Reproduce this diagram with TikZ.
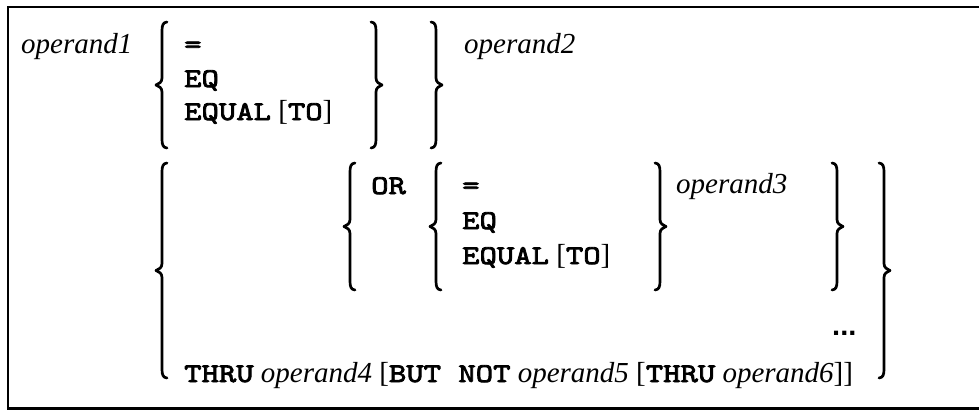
\documentclass[tikz,border=0pt]{standalone}
\usepackage{fontspec}
\setmainfont{Liberation Serif}
\newfontfamily\dotfont{Liberation Sans}
\newfontfamily\kwfont{lmmono10-regular.otf}[FakeStretch=1.225, FakeBold=3]
\newcommand{\kw}[1]{{\kwfont\fontsize{27}{33}\selectfont #1}}
\newcommand{\op}[1]{\textit{#1}}

\tikzset{
  txt/.style={anchor=base west, inner sep=0pt, font=\fontsize{29}{33}\selectfont},
  brc/.style={line width=2.7pt, line cap=round, line join=round},
  frame/.style={line width=2.2pt}
}

% left brace: stem x, top y, bottom y
\newcommand{\lbrc}[3]{%
  \pgfmathsetmacro\bmid{(#2+#3)/2}
  \draw[brc] (#1+5,#2) .. controls (#1+1,#2+0.5) and (#1,#2+3) .. (#1,#2+9)
    -- (#1,\bmid-7) .. controls (#1,\bmid-3) and (#1-3,\bmid-1) .. (#1-6,\bmid)
    .. controls (#1-3,\bmid+1) and (#1,\bmid+3) .. (#1,\bmid+7)
    -- (#1,#3-9) .. controls (#1,#3-3) and (#1+1,#3-0.5) .. (#1+5,#3);}
% right brace: stem x, top y, bottom y
\newcommand{\rbrc}[3]{%
  \pgfmathsetmacro\bmid{(#2+#3)/2}
  \draw[brc] (#1-5,#2) .. controls (#1-1,#2+0.5) and (#1,#2+3) .. (#1,#2+9)
    -- (#1,\bmid-7) .. controls (#1,\bmid-3) and (#1+3,\bmid-1) .. (#1+6,\bmid)
    .. controls (#1+3,\bmid+1) and (#1,\bmid+3) .. (#1,\bmid+7)
    -- (#1,#3-9) .. controls (#1,#3-3) and (#1-1,#3-0.5) .. (#1-5,#3);}

\begin{document}
\begin{tikzpicture}[x=1pt, y=-1pt]
    \useasboundingbox (0,0) rectangle (979,412);

    % Frame
    \draw[frame] (990,7) -- (8,7) -- (8,408.5) -- (990,408.5);

    % First comparison
    \node[txt] (op1) at (21,53) {\op{operand1}};
    \node[txt] (eqA) at (184,53) {\kw{=}};
    \node[txt] (eqB) at (184,87) {\kw{EQ}};
    \node[txt] (eqC) at (184,120) {\kw{EQUAL} [\kw{TO}]};
    \node[txt] (op2) at (464,53) {\op{operand2}};

    % Second comparison
    \node[txt] (or) at (371,194) {\kw{OR}};
    \node[txt] (eqD) at (462,194) {\kw{=}};
    \node[txt] (eqE) at (462,229) {\kw{EQ}};
    \node[txt] (eqF) at (462,264) {\kw{EQUAL} [\kw{TO}]};
    \node[txt] (op3) at (676,193) {\op{operand3}};
    \node[txt] (dots) at (832,335) {\dotfont\bfseries ...};
    \node[txt] (thru) at (184,382) {\kw{THRU} \op{operand4} [\kw{BUT NOT} \op{operand5} [\kw{THRU} \op{operand6}]]};

    % Braces
    \lbrc{162}{22}{148}
    \rbrc{376}{22}{148}
    \rbrc{436}{22}{148}
    \lbrc{162}{163}{378}
    \lbrc{350}{163}{290}
    \lbrc{436}{163}{290}
    \rbrc{660}{163}{290}
    \rbrc{837}{163}{290}
    \rbrc{884}{163}{378}
\end{tikzpicture}
\end{document}
